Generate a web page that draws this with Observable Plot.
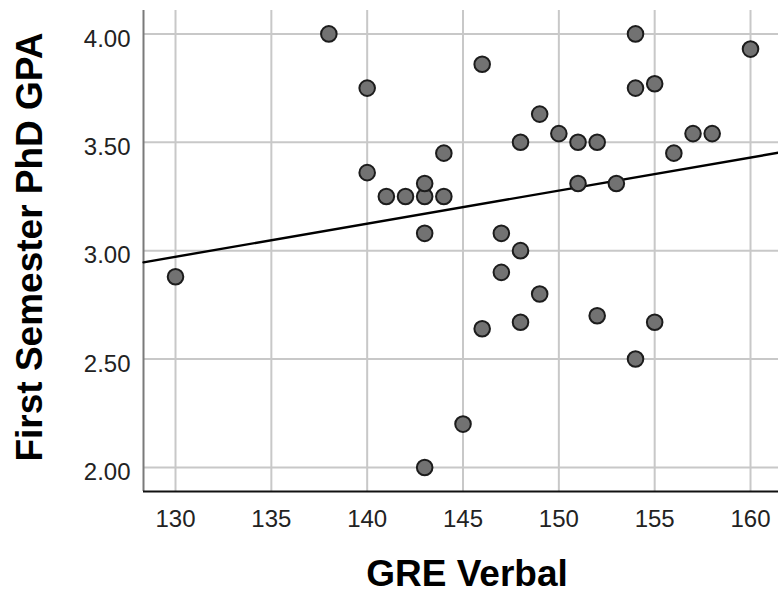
<!DOCTYPE html>
<html>
<head>
<meta charset="utf-8">
<script src="https://cdn.jsdelivr.net/npm/d3@7"></script>
<script src="https://cdn.jsdelivr.net/npm/@observablehq/plot@0.6"></script>
<style>
  html, body { margin: 0; padding: 0; background: #fff; }
  #chart svg { display: block; }
</style>
</head>
<body>
<div id="chart"></div>
<script>
// GRE Verbal score vs first-semester PhD GPA
const greVerbal = [130, 138, 140, 140, 141, 142, 143, 143, 143, 144, 144, 143, 145, 146, 146, 147, 147, 148, 148, 148, 149, 149, 150, 151, 151, 152, 152, 153, 154, 154, 154, 155, 155, 156, 157, 158, 160];
const gpa       = [2.88, 4.00, 3.75, 3.36, 3.25, 3.25, 3.25, 3.31, 3.08, 3.25, 3.45, 2.00, 2.20, 3.86, 2.64, 3.08, 2.90, 3.50, 3.00, 2.67, 3.63, 2.80, 3.54, 3.50, 3.31, 3.50, 2.70, 3.31, 4.00, 3.75, 2.50, 3.77, 2.67, 3.45, 3.54, 3.54, 3.93];
const xTicks = [130, 135, 140, 145, 150, 155, 160];
const yTicks = [2.0, 2.5, 3.0, 3.5, 4.0];
const xDomain = [128.33, 161.46];
const yDomain = [1.889, 4.108];
const xTitle = "GRE Verbal";
const yTitle = "First Semester PhD GPA";

const points = greVerbal.map((x, i) => ({x, y: gpa[i]}));

// least-squares fit line across the full x domain
const mx = d3.mean(greVerbal), my = d3.mean(gpa);
const sxy = d3.sum(points, d => (d.x - mx) * (d.y - my));
const sxx = d3.sum(points, d => (d.x - mx) ** 2);
const slope = sxy / sxx, intercept = my - slope * mx;
const fit = xDomain.map(x => ({x, y: intercept + slope * x}));

const font = "'Liberation Sans', Arial, sans-serif";

const chart = Plot.plot({
  width: 778,
  height: 603,
  marginLeft: 143,
  marginRight: 0,
  marginTop: 10,
  marginBottom: 112,
  style: {fontFamily: font, background: "#fff"},
  x: {domain: xDomain, axis: null},
  y: {domain: yDomain, axis: null},
  marks: [
    Plot.ruleX(xTicks, {stroke: "#c8c8c8", strokeWidth: 2}),
    Plot.ruleY(yTicks, {stroke: "#c8c8c8", strokeWidth: 2}),
    Plot.ruleX([xDomain[0]], {stroke: "#7a7a7a", strokeWidth: 2}),
    Plot.ruleY([yDomain[0]], {stroke: "#111", strokeWidth: 2}),
    Plot.axisX({ticks: xTicks, tickSize: 0, tickPadding: 18, fontSize: 24, fill: "#222", label: null, tickFormat: d3.format("d")}),
    Plot.axisY({ticks: yTicks, tickSize: 0, tickPadding: 13, dy: 5, fontSize: 24, fill: "#222", label: null, tickFormat: d3.format(".2f")}),
    Plot.line(fit, {x: "x", y: "y", stroke: "#000", strokeWidth: 2.4}),
    Plot.dot(points, {x: "x", y: "y", r: 7.8, fill: "#727272", stroke: "#1c1c1c", strokeWidth: 2}),
    Plot.text([xTitle], {text: d => d, frameAnchor: "bottom", dx: 6, dy: 94, fontSize: 37, fontWeight: "bold", fill: "#000"}),
    Plot.text([yTitle], {text: d => d, frameAnchor: "left", textAnchor: "middle", dx: -113, dy: -4, rotate: -90, fontSize: 37, fontWeight: "bold", fill: "#000"})
  ]
});
document.getElementById("chart").appendChild(chart);
</script>
</body>
</html>
